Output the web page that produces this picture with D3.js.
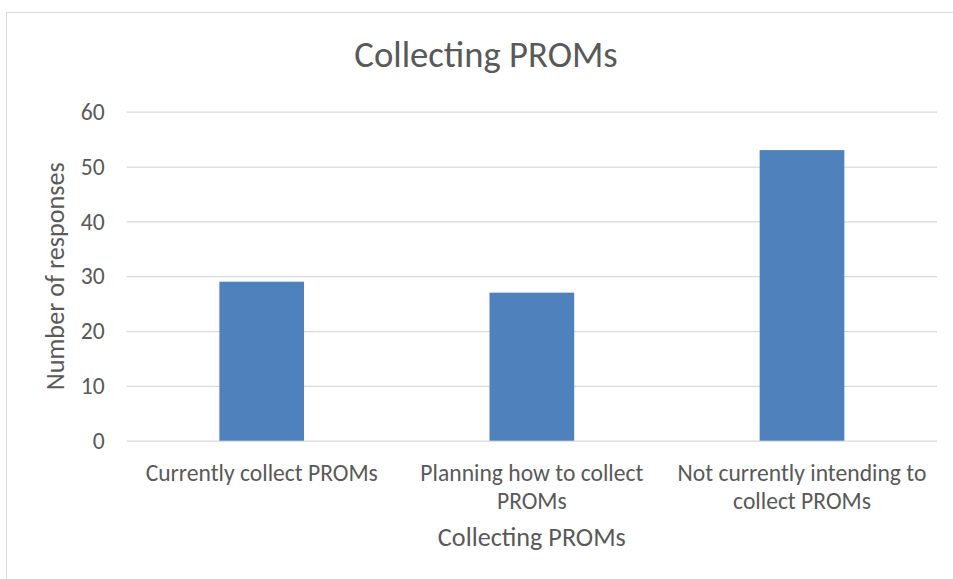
<!DOCTYPE html>
<html>
<head>
<meta charset="utf-8">
<script src="https://cdn.jsdelivr.net/npm/d3@7"></script>
<style>
  body { margin: 0; background: #fff; }
  svg { display: block; }
</style>
</head>
<body>
<svg id="chart"></svg>
<script>
// chart values
const categories = ['Currently collect PROMs', 'Planning how to collect PROMs', 'Not currently intending to collect PROMs']
const responses = [29, 27, 53]
const yTicks = [0, 10, 20, 30, 40, 50, 60]
const chartTitle = 'Collecting PROMs'
const xTitle = 'Collecting PROMs'
const yTitle = 'Number of responses'

const width = 953
const height = 579
const fontFamily = "Carlito, Calibri, Lato, 'Open Sans', sans-serif"
const textColor = '#595959'
const gridColor = '#d9d9d9'
const barColor = '#4f81bd'

const plot = {left: 126.7, right: 937, top: 111.7, bottom: 440.7}

const svg = d3.select('#chart')
    .attr('width', width)
    .attr('height', height)
    .style('font-family', fontFamily)

svg.append('rect')
    .attr('width', width)
    .attr('height', height)
    .attr('fill', '#fff')

// chart area border (runs off the right and bottom edges)
svg.append('rect')
    .attr('x', 6.5)
    .attr('y', 12.5)
    .attr('width', 980)
    .attr('height', 600)
    .attr('fill', 'none')
    .attr('stroke', gridColor)
    .attr('stroke-width', 1)

const xScale = d3.scaleBand()
    .domain(categories)
    .range([plot.left, plot.right])
    .paddingInner(0.6865)
    .paddingOuter(0.343)

const yScale = d3.scaleLinear()
    .domain([0, 60])
    .range([plot.bottom, plot.top])

// y axis with gridlines
const yAxis = svg.append('g')
    .attr('transform', `translate(${plot.left},0)`)
    .call(d3.axisLeft(yScale)
        .tickValues(yTicks)
        .tickSize(-(plot.right - plot.left))
        .tickPadding(22))
yAxis.select('.domain').remove()
yAxis.selectAll('.tick line')
    .attr('stroke', gridColor)
    .attr('stroke-width', 1.3)
yAxis.selectAll('.tick text')
    .attr('fill', textColor)
    .attr('font-size', 23.6)
    .attr('font-family', fontFamily)
    .attr('dy', '0.33em')

// bars
svg.append('g')
    .selectAll('rect')
    .data(responses)
    .join('rect')
    .attr('x', (d, i) => xScale(categories[i]))
    .attr('y', d => yScale(d))
    .attr('width', xScale.bandwidth())
    .attr('height', d => yScale(0) - yScale(d))
    .attr('fill', barColor)

// x axis category labels
const xAxis = svg.append('g')
    .attr('transform', `translate(0,${plot.bottom})`)
    .call(d3.axisBottom(xScale).tickSize(0).tickPadding(0))
xAxis.select('.domain').remove()
xAxis.selectAll('.tick text')
    .attr('fill', textColor)
    .attr('font-size', 23.6)
    .attr('font-family', fontFamily)
    .attr('y', 40)
    .attr('dy', 0)
    .call(wrap, xScale.step() - 10, 28)

function wrap(texts, maxWidth, lineHeight) {
  texts.each(function() {
    const text = d3.select(this)
    const words = text.text().split(/\s+/)
    const y = text.attr('y')
    text.text(null)
    let line = []
    let lineNo = 0
    let tspan = text.append('tspan').attr('x', 0).attr('y', y)
    words.forEach(word => {
      line.push(word)
      tspan.text(line.join(' '))
      if (tspan.node().getComputedTextLength() > maxWidth && line.length > 1) {
        line.pop()
        tspan.text(line.join(' '))
        line = [word]
        lineNo += 1
        tspan = text.append('tspan')
            .attr('x', 0)
            .attr('y', +y + lineNo * lineHeight)
            .text(word)
      }
    })
  })
}

// titles
svg.append('text')
    .text(chartTitle)
    .attr('x', 486)
    .attr('y', 67)
    .attr('text-anchor', 'middle')
    .attr('font-size', 36.7)
    .attr('fill', textColor)

svg.append('text')
    .text(xTitle)
    .attr('x', (plot.left + plot.right) / 2)
    .attr('y', 546)
    .attr('text-anchor', 'middle')
    .attr('font-size', 26.2)
    .attr('fill', textColor)

svg.append('text')
    .text(yTitle)
    .attr('transform', `translate(64,${(plot.top + plot.bottom) / 2}) rotate(-90)`)
    .attr('text-anchor', 'middle')
    .attr('font-size', 26.2)
    .attr('fill', textColor)
</script>
</body>
</html>
